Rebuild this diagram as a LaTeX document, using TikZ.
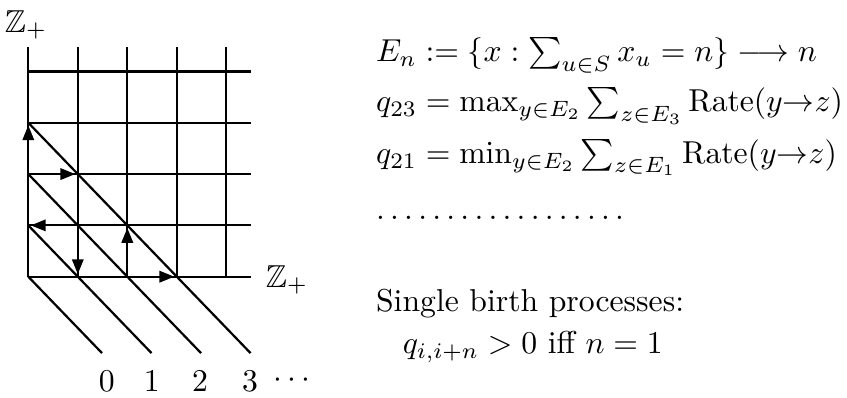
\documentclass[tikz,border=0pt]{standalone}
\usepackage{amsmath,amssymb}
\usetikzlibrary{arrows.meta}
\begin{document}
\begin{tikzpicture}[x=0.3155pt,y=-0.3155pt,line width=0.7pt,
  arr/.style={-{Triangle[length=4.7pt,width=3.6pt]},shorten >=0.8pt},
  txt/.style={anchor=base west,inner sep=0pt},
  lab/.style={inner sep=0pt}]
\useasboundingbox (0,0) rectangle (847,398);
\begin{scope}[shift={(28.3,276.7)},x={(15.62pt,0pt)},y={(0pt,16.19pt)}]
  \foreach \i in {0,...,4}{\foreach \j in {0,...,4}{\coordinate (p\i\j) at (\i,\j);}}
  \foreach \i in {0,...,4}{\coordinate (t\i) at (\i,4.48); \coordinate (r\i) at (4.49,\i);}
  \foreach \n in {0,...,3}{\coordinate (d\n) at (\n+1.49,-1.49);}
  \foreach \i in {0,...,4}{\draw (p\i0) -- (t\i);}
  \foreach \j in {0,...,4}{\draw (p0\j) -- (r\j);}
  \foreach \n in {0,...,3}{\draw (p0\n) -- (d\n);}
  \draw[arr] (p02) -- (p03);
  \draw[arr] (p02) -- (p12);
  \draw[arr] (p11) -- (p01);
  \draw[arr] (p11) -- (p10);
  \draw[arr] (p20) -- (p21);
  \draw[arr] (p20) -- (p30);
\end{scope}
\node[lab] (zt) at (26,25) {$\mathbb{Z}_+$};
\node[lab] (zr) at (287,280) {$\mathbb{Z}_+$};
\node[lab] (n0) at (106.7,381.7) {$0$};
\node[lab] (n1) at (151.7,381.7) {$1$};
\node[lab] (n2) at (200,381.7) {$2$};
\node[lab] (n3) at (250,381.7) {$3$};
\node[lab] (nd) at (295,380) {$\cdots$};
\node[txt] (l1) at (375,61.7) {$E_n := \{x : \sum_{u\in S} x_u = n\} \longrightarrow n$};
\node[txt] (l2) at (375,111.7) {$q_{23} = \max_{y\in E_2}\sum_{z\in E_3} \mathrm{Rate}(y{\to}z)$};
\node[txt] (l3) at (375,163.3) {$q_{21} = \min_{y\in E_2}\sum_{z\in E_1} \mathrm{Rate}(y{\to}z)$};
\node[txt] (l4) at (375,220) {$\ldotp\ldotp\ldotp\ldotp\ldotp\ldotp\ldotp\ldotp\ldotp\ldotp\ldotp\ldotp\ldotp\ldotp\ldotp\ldotp\ldotp\ldotp$};
\node[txt] (l5) at (375,311.7) {Single birth processes:};
\node[txt] (l6) at (401.7,353.3) {$q_{i,i+n} > 0$ iff $n = 1$};
\end{tikzpicture}
\end{document}
